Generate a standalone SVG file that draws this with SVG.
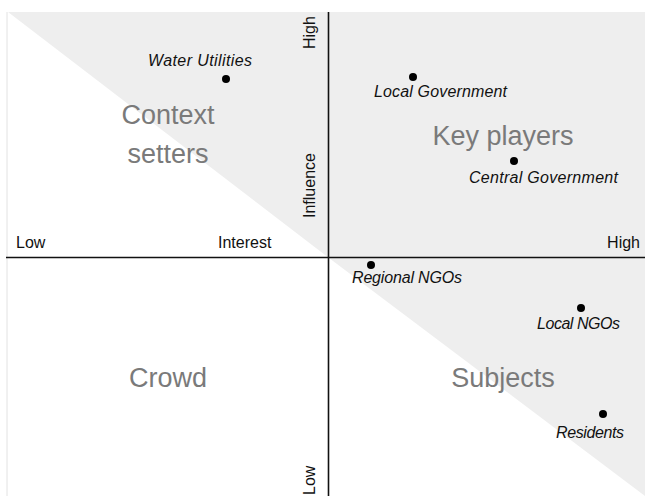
<svg xmlns="http://www.w3.org/2000/svg" width="645" height="496" viewBox="0 0 645 496">
<style>
.q{font-family:"Liberation Sans",Arial,sans-serif;font-size:27px;fill:#7a7a7a;text-anchor:middle}
.n{font-family:"Liberation Sans",Arial,sans-serif;font-size:16px;font-style:italic;fill:#111}
.a{font-family:"Liberation Sans",Arial,sans-serif;font-size:16px;fill:#111}
.dot{fill:#000}
.ax{stroke:#111;stroke-width:1.6;fill:none}
</style>
<rect width="645" height="496" fill="#ffffff"/>
<g id="shading" fill="#eeeeee">
<polygon points="8,12 329,12 329,258"/>
<rect x="329" y="12" width="316" height="246"/>
<polygon points="329,258 645,258 645,496"/>
</g>
<line x1="7" y1="12" x2="7" y2="496" stroke="#e2e2e2" stroke-width="1"/>
<g id="connectors">
<line class="ax" x1="6" y1="257.5" x2="645" y2="257.5"/>
<line class="ax" x1="328.5" y1="12" x2="328.5" y2="496"/>
</g>
<g id="axis-labels">
<text class="a" x="16" y="248">Low</text>
<text class="a" x="218" y="248">Interest</text>
<text class="a" x="640" y="248" text-anchor="end">High</text>
<text class="a" transform="translate(315,49) rotate(-90)">High</text>
<text class="a" transform="translate(315,218) rotate(-90)">Influence</text>
<text class="a" transform="translate(315,495) rotate(-90)">Low</text>
</g>
<g id="quadrant-context-setters"><text class="q" x="168" y="124">Context</text><text class="q" x="168" y="163">setters</text></g>
<g id="quadrant-key-players"><text class="q" x="503" y="145">Key players</text></g>
<g id="quadrant-crowd"><text class="q" x="168" y="387">Crowd</text></g>
<g id="quadrant-subjects"><text class="q" x="503" y="387">Subjects</text></g>
<g id="water-utilities"><circle class="dot" cx="226" cy="79" r="4"/><text class="n" x="148" y="66" textLength="104">Water Utilities</text></g>
<g id="local-government"><circle class="dot" cx="413" cy="77" r="4"/><text class="n" x="374" y="97" textLength="133">Local Government</text></g>
<g id="central-government"><circle class="dot" cx="514" cy="161" r="4"/><text class="n" x="469" y="183" textLength="149">Central Government</text></g>
<g id="regional-ngos"><circle class="dot" cx="371" cy="265" r="4"/><text class="n" x="352" y="283" textLength="110">Regional NGOs</text></g>
<g id="local-ngos"><circle class="dot" cx="581" cy="308" r="4"/><text class="n" x="537" y="329" textLength="83">Local NGOs</text></g>
<g id="residents"><circle class="dot" cx="603" cy="414" r="4"/><text class="n" x="556" y="438" textLength="68">Residents</text></g>
</svg>
